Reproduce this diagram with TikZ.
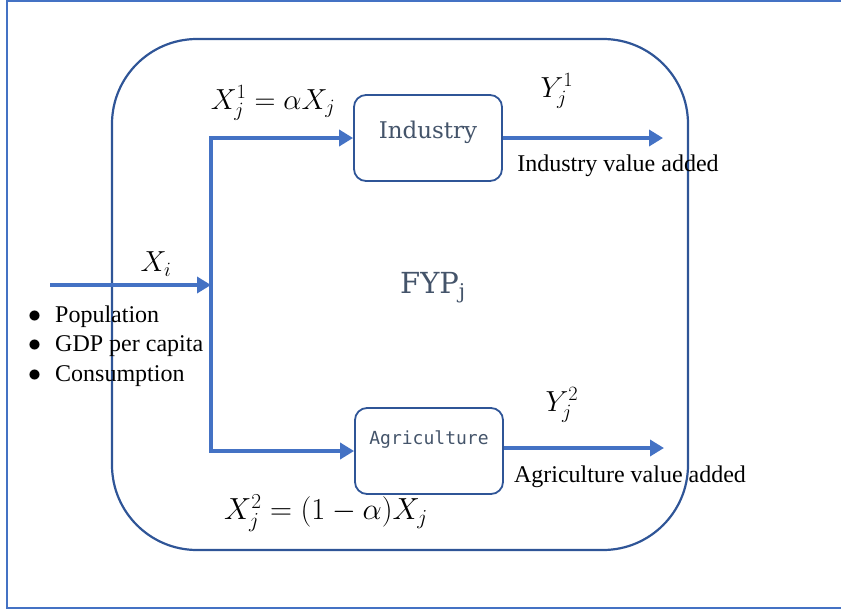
\RequirePackage{fix-cm}
\documentclass[tikz,border=0pt]{standalone}
\usepackage{fontspec}
\setmainfont{Liberation Serif}
\newfontfamily\boxfont{DejaVu Serif}
\newfontfamily\agrifont{DejaVu Sans Mono}
\usetikzlibrary{arrows.meta}
\usetikzlibrary{positioning}
\definecolor{framecol}{HTML}{4472C4}
\definecolor{linecol}{HTML}{2F5597}
\definecolor{flowcol}{HTML}{4472C4}
\definecolor{textcol}{HTML}{44546A}
\newcommand{\dotitem}{{\fontsize{26}{29.5}\selectfont$\bullet$}}
\tikzset{x = 1pt, y = -1pt,
  sector/.style = {draw = linecol, line width = 1.8pt, rounded corners = 12pt,
    minimum width = 148pt, inner sep = 0pt, text height = 43pt,
    text depth = 43pt, text = textcol},
  flow/.style = {draw = flowcol, line width = 4.5pt,
    -{Triangle[length = 14pt, width = 16pt]}},
  eq/.style = {font = \fontsize{29}{34}\selectfont},
  words/.style = {font = \fontsize{24}{29.5}\selectfont}}

\begin{document}
\begin{tikzpicture}
  \useasboundingbox (0,0) rectangle (841,613);
  % frame and plan
  \draw [framecol, line width = 1.5pt] (850,1) -- (7,1) -- (7,608) -- (850,608);
  \draw [linecol, line width = 2.2pt, rounded corners = 85pt] (112,39) rectangle (688,550);
  \node [text = textcol, font = \boxfont\fontsize{29}{32}\selectfont] (fyp) at (433,288) {FYP\textsubscript{j}};
  % nodes
  \node [sector, font = \boxfont\fontsize{23}{26}\selectfont] (industry) at (428,138) {Industry};
  \node [sector, text height = 36pt, text depth = 50pt,
    font = \agrifont\fontsize{18}{22}\selectfont] (agri) at (429,451) {Agriculture};
  \coordinate (source) at (50,285);
  \coordinate (fork) at (211,285);
  \coordinate (indout) at (663,138);
  \coordinate (agriout) at (664,448);
  % paths
  \draw [flow] (source) -- (fork);
  \draw [flow] (fork) |- (industry.west);
  \draw [flow] (fork) |- (agri.west);
  \draw [flow] (industry.east) -- (indout);
  \draw [flow] (agri.east |- agriout) -- (agriout);
  % labels
  \node [eq] (xi) at (156,264) {$X_i$};
  \node [eq] (xj1) at (273,103) {$X_j^1=\alpha X_j$};
  \node [eq, font = \fontsize{30.5}{34}\selectfont] (xj2) at (326,513) {$X_j^2=(1-\alpha)X_j$};
  \node [eq] (yj1) at (557,91) {$Y_j^1$};
  \node [eq] (yj2) at (562,405) {$Y_j^2$};
  \node [words] (indva) at (618,166) {Industry value added};
  \node [words] (agriva) at (630,477) {Agriculture value added};
  \node [words, anchor = base west, inner sep = 0pt] (factors) at (28,322)
    {\begin{tabular}[t]{@{}l@{\hspace{14pt}}l@{}}
      \dotitem & Population\\
      \dotitem & GDP per capita\\
      \dotitem & Consumption
    \end{tabular}};
\end{tikzpicture}
\end{document}
